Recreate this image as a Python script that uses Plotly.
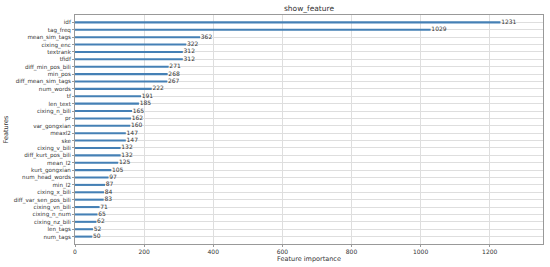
import plotly.graph_objects as go

features = ["idf", "tag_freq", "mean_sim_tags", "cixing_enc", "textrank", "tfidf",
            "diff_min_pos_bili", "min_pos", "diff_mean_sim_tags", "num_words", "tf",
            "len_text", "cixing_n_bili", "pr", "var_gongxian", "meaxl2", "ske",
            "cixing_v_bili", "diff_kurt_pos_bili", "mean_l2", "kurt_gongxian",
            "num_head_words", "min_l2", "cixing_x_bili", "diff_var_sen_pos_bili",
            "cixing_vn_bili", "cixing_n_num", "cixing_nz_bili", "len_tags", "num_tags"]
importance = [1231, 1029, 362, 322, 312, 312, 271, 268, 267, 222, 191, 185, 165, 162,
              160, 147, 147, 132, 132, 125, 105, 97, 87, 84, 83, 71, 65, 62, 52, 50]
x_ticks = [0, 200, 400, 600, 800, 1000, 1200]

n = len(features)
ypos = list(range(n))
feats_rev = features[::-1]
vals_rev = importance[::-1]

font = "DejaVu Sans"
txt = "#333"
fig = go.Figure()
fig.add_trace(go.Bar(x=vals_rev, y=ypos, orientation="h", width=0.28,
                     marker=dict(color="#4580b5", line=dict(width=0)), showlegend=False))
fig.add_trace(go.Scatter(x=[v + 2 for v in vals_rev], y=ypos, mode="text",
                         text=[str(v) for v in vals_rev], textposition="middle right",
                         textfont=dict(family=font, size=6, color=txt), showlegend=False,
                         cliponaxis=False))

fig.update_layout(
    width=550, height=267,
    margin=dict(l=75, r=7, t=15, b=23, autoexpand=False),
    paper_bgcolor="white", plot_bgcolor="white",
    font=dict(family=font, size=6, color=txt),
    title=dict(text="show_feature", x=0.5, xref="paper", y=0.978, yanchor="top",
               font=dict(family=font, size=7.5, color=txt)),
)
fig.update_xaxes(range=[0, max(importance) * 1.1], tickvals=x_ticks, automargin=False,
                 showgrid=True, gridcolor="#dedede", gridwidth=1, zeroline=False,
                 showline=True, linecolor="#999", linewidth=1, mirror=True,
                 ticks="outside", ticklen=2, tickcolor="#999",
                 title=dict(text="Feature importance", font=dict(family=font, size=6.5), standoff=1),
                 tickfont=dict(family=font, size=6))
fig.update_yaxes(range=[-1, n], tickvals=ypos, ticktext=feats_rev, automargin=False,
                 showgrid=True, gridcolor="#dedede", gridwidth=1, zeroline=False,
                 showline=True, linecolor="#999", linewidth=1, mirror=True,
                 ticks="outside", ticklen=2, tickcolor="#999",
                 title=dict(text="Features", font=dict(family=font, size=6.5), standoff=4),
                 tickfont=dict(family=font, size=5.6))

fig.write_html("out.html", config={"displayModeBar": False},
               post_script="document.body.style.margin='0';document.body.style.overflow='hidden';")
